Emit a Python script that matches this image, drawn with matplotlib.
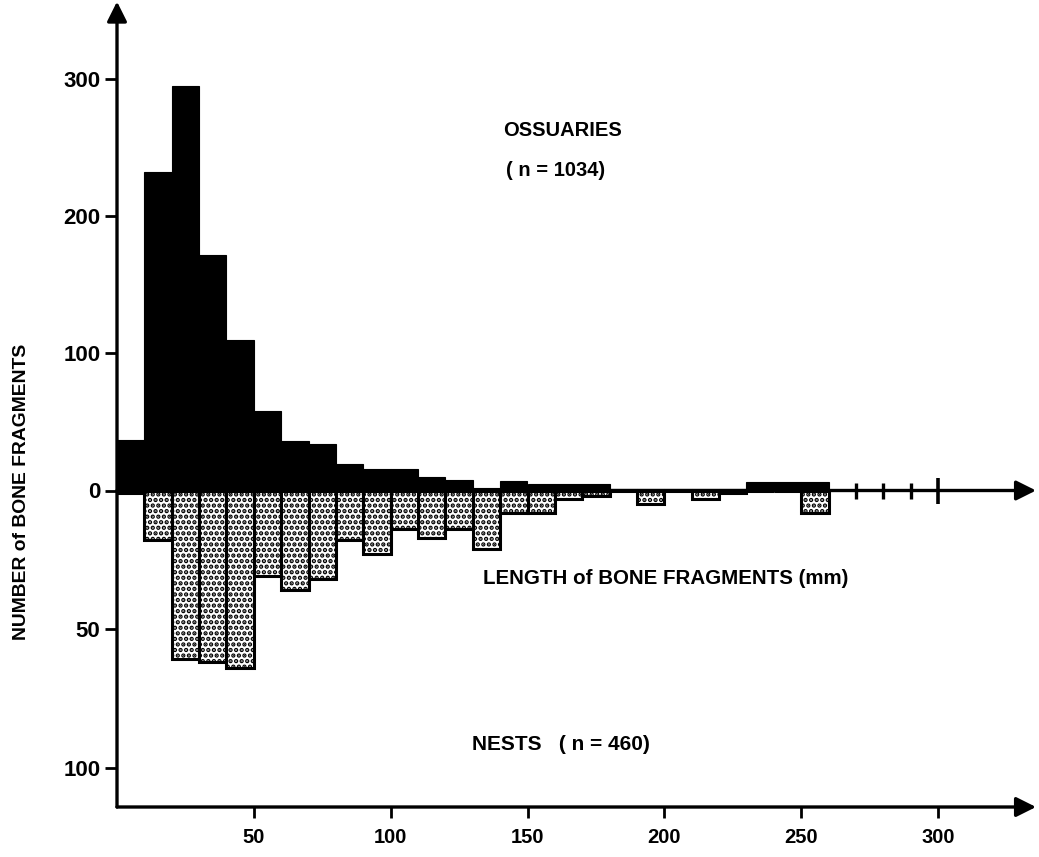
import matplotlib
matplotlib.use("Agg")
import matplotlib.pyplot as plt

# ---------------- data ----------------
bin_left = list(range(0, 260, 10))          # 10 mm length classes, 0-260 mm
bin_width = 10
ossuaries = [37, 232, 295, 172, 110, 58, 36, 34, 19, 16,
             16, 10, 8, 2, 7, 5, 5, 5, 1, 1,
             1, 1, 1, 6, 6, 6]
nests = [1, 18, 61, 62, 64, 31, 36, 32, 18, 23,
         14, 17, 14, 21, 8, 8, 3, 2, 0, 5,
         0, 3, 1, 0, 0, 8]
x_ticks = [50, 100, 150, 200, 250, 300]
oss_ticks = [0, 100, 200, 300]
nest_ticks = [50, 100]
axis_marks = [270, 280, 290, 300]

# ---------------- style / layout ----------------
plt.rcParams['font.family'] = ['Liberation Sans', 'DejaVu Sans']
plt.rcParams['hatch.linewidth'] = 2.2
W, H = 1039, 857
fig = plt.figure(figsize=(W / 100, H / 100), dpi=100)

def fx(px):
    return px / W

def fy(py):
    return 1 - py / H

ax_left, ax_right, ax_top, ax_bot = 117, 1037, 3, 807
zero_py = 490.5
oss_px = 1.371     # pixels per fragment (ossuaries scale)
nest_px = 2.77     # pixels per fragment (nests scale)
x_px = (938 - 117) / 300.0

ax = fig.add_axes([fx(ax_left), fy(ax_bot), (ax_right - ax_left) / W, (ax_bot - ax_top) / H])
xmax = (ax_right - ax_left) / x_px
ax.set_xlim(0, xmax)
ax.set_ylim(-(ax_bot - zero_py) / oss_px, (zero_py - ax_top) / oss_px)
ax2 = ax.twinx()
ax2.set_ylim(-(ax_bot - zero_py) / nest_px, (zero_py - ax_top) / nest_px)

for a in (ax, ax2):
    for s in a.spines.values():
        s.set_visible(False)

# bars
ax.bar(bin_left, ossuaries, width=bin_width, align='edge', color='black',
       edgecolor='black', linewidth=0.8, zorder=2)
ax2.bar(bin_left, [-v for v in nests], width=bin_width, align='edge',
        facecolor='white', edgecolor='black', hatch='...', linewidth=2.2, zorder=2)

# axes lines with arrows
arrow_kw = dict(arrowstyle='-|>', lw=2.4, color='black', mutation_scale=30,
                shrinkA=0, shrinkB=0)
x_tip = (1036 - ax_left) / x_px
y2_lo, y2_hi = ax2.get_ylim()
ax2.annotate('', xy=(x_tip, 0), xytext=(0, 0), arrowprops=arrow_kw,
             annotation_clip=False, zorder=5)
ax2.annotate('', xy=(x_tip, y2_lo), xytext=(0, y2_lo), arrowprops=arrow_kw,
             annotation_clip=False, zorder=5)
ax2.annotate('', xy=(0, y2_hi + 0.5), xytext=(0, y2_lo), arrowprops=arrow_kw,
             annotation_clip=False, zorder=5)

# small marks on the middle axis
ax2.vlines(axis_marks[:-1], -8 / nest_px, 8 / nest_px, color='black', lw=2.4, zorder=5)
ax2.vlines(axis_marks[-1:], -13 / nest_px, 13 / nest_px, color='black', lw=2.6, zorder=5)

# ticks
ax.set_xticks(x_ticks)
ax.set_xticklabels([str(t) for t in x_ticks], fontsize=14.5, fontweight='bold')
ax.tick_params(axis='x', direction='out', length=8, width=2, pad=7, bottom=True, top=False)
ax.set_yticks(oss_ticks)
ax.set_yticklabels([str(t) for t in oss_ticks], fontsize=16, fontweight='bold')
ax.tick_params(axis='y', direction='out', length=9, width=2, pad=3)
ax2.yaxis.tick_left()
ax2.set_yticks([-t for t in nest_ticks])
ax2.set_yticklabels([str(t) for t in nest_ticks], fontsize=16, fontweight='bold')
ax2.tick_params(axis='y', direction='out', length=9, width=2, pad=3)

# texts
fig.text(fx(563), fy(130), 'OSSUARIES', ha='center', va='center', fontsize=14.5, fontweight='bold')
fig.text(fx(556), fy(170), '( n = 1034)', ha='center', va='center', fontsize=14.5, fontweight='bold')
fig.text(fx(666), fy(578), 'LENGTH of BONE FRAGMENTS (mm)', ha='center', va='center',
         fontsize=14.8, fontweight='bold')
fig.text(fx(561), fy(745), 'NESTS   ( n = 460)', ha='center', va='center', fontsize=15, fontweight='bold')
fig.text(fx(22), fy(492), 'NUMBER of BONE FRAGMENTS', ha='center', va='center', rotation=90,
         fontsize=13.9, fontweight='bold')

fig.savefig('out.png', dpi=100)
